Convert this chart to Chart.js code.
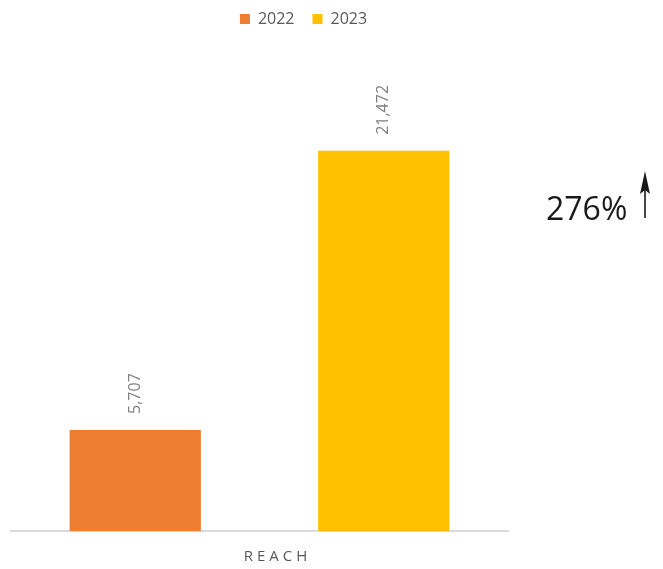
<!DOCTYPE html>
<html>
<head>
<meta charset="utf-8">
<script src="https://cdn.jsdelivr.net/npm/chart.js@4"></script>
<style>
  html, body { margin: 0; padding: 0; background: #fff; }
  #wrap { width: 663px; height: 569px; }
</style>
</head>
<body>
<div id="wrap"><canvas id="c" width="663" height="569"></canvas></div>
<script>
const categories = ['REACH'];
const seriesNames = ['2022', '2023'];
const values2022 = [5707];
const values2023 = [21472];
const growthLabel = '276%';

const FONT = '"Open Sans", "Segoe UI", sans-serif';

// value labels (rotated), category label with letter spacing, growth note with arrow
const extras = {
  id: 'extras',
  afterDatasetsDraw(chart) {
    const ctx = chart.ctx;
    ctx.save();
    ctx.font = '16px ' + FONT;
    ctx.fillStyle = '#808080';
    chart.data.datasets.forEach((ds, di) => {
      chart.getDatasetMeta(di).data.forEach((bar, i) => {
        const txt = ds.data[i].toLocaleString('en-US');
        ctx.save();
        ctx.translate(bar.x, bar.y - 16);
        ctx.rotate(-Math.PI / 2);
        ctx.textAlign = 'left';
        ctx.textBaseline = 'middle';
        ctx.fillText(txt, 0, 0);
        ctx.restore();
      });
    });

    // category label under the axis
    const xs = chart.scales.x;
    ctx.fillStyle = '#595959';
    ctx.font = '15px ' + FONT;
    ctx.textAlign = 'center';
    ctx.textBaseline = 'middle';
    if ('letterSpacing' in ctx) ctx.letterSpacing = '4px';
    chart.data.labels.forEach((lab, i) => {
      ctx.fillText(lab, xs.getPixelForValue(i) + 18, chart.chartArea.bottom + 26);
    });
    if ('letterSpacing' in ctx) ctx.letterSpacing = '0px';

    // growth note
    ctx.fillStyle = '#1a1a1a';
    ctx.font = '32px ' + FONT;
    ctx.textAlign = 'left';
    ctx.textBaseline = 'alphabetic';
    ctx.fillText(growthLabel, 546, 220);

    // upward arrow
    ctx.strokeStyle = '#1a1a1a';
    ctx.lineWidth = 1.6;
    ctx.beginPath();
    ctx.moveTo(645, 218);
    ctx.lineTo(645, 186);
    ctx.stroke();
    ctx.fillStyle = '#1a1a1a';
    ctx.beginPath();
    ctx.moveTo(645, 171);
    ctx.lineTo(650, 194);
    ctx.lineTo(645, 190);
    ctx.lineTo(640, 194);
    ctx.closePath();
    ctx.fill();
    ctx.restore();
  }
};

new Chart(document.getElementById('c'), {
  type: 'bar',
  data: {
    labels: categories,
    datasets: [
      { label: seriesNames[0], data: values2022, backgroundColor: '#ED7D31' },
      { label: seriesNames[1], data: values2023, backgroundColor: '#FFC000' }
    ]
  },
  options: {
    responsive: false,
    animation: false,
    layout: { padding: { left: 11, right: 67, top: -7, bottom: 38 } },
    datasets: { bar: { categoryPercentage: 1.0, barPercentage: 0.528 } },
    plugins: {
      legend: {
        position: 'top',
        labels: {
          boxWidth: 10, boxHeight: 10, padding: 18,
          color: '#595959',
          font: { family: FONT, size: 16 }
        }
      },
      tooltip: { enabled: false }
    },
    scales: {
      x: {
        grid: { display: false, drawTicks: false },
        border: { display: true, color: '#d9d9d9', width: 2 },
        ticks: { display: false }
      },
      y: {
        display: false,
        min: 0,
        max: 27900
      },
      // empty right-hand gutter that holds the growth note
      gutter: {
        position: 'right',
        grid: { display: false, drawTicks: false },
        border: { display: false },
        ticks: { display: false },
        afterFit(scale) { scale.width = 88; }
      }
    }
  },
  plugins: [extras]
});
</script>
</body>
</html>
